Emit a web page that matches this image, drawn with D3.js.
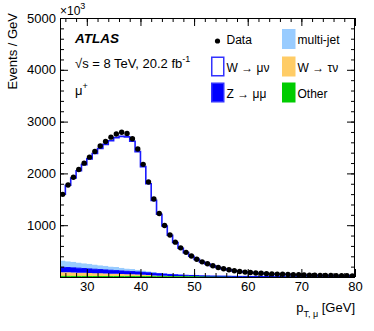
<!DOCTYPE html>
<html><head><meta charset="utf-8">
<script src="https://cdn.jsdelivr.net/npm/d3@7"></script>
<style>
body{margin:0;background:#fff}
svg{display:block}
text{font-family:"Liberation Sans",Arial,Helvetica,sans-serif;fill:#000}
</style>
</head><body>
<svg id="c" width="374" height="331"></svg>
<script>
// ---- data (bins of 1 GeV from 25 to 80 GeV) ----
const binLow = d3.range(25, 80, 1);
const binWidth = 1;
const dataVals = [1596,1777,1926,2074,2198,2314,2424,2530,2615,2700,2762,2793,2772,2670,2470,2175,1835,1505,1227,994,812,673,563,476,404,343,292,256,217,184,159,140,120,107,95,86,78,71,65,60,56,52,48,45,42,39,36,34,32,30,28,26,25,23,22];
const wmunu = [1283,1465,1618,1770,1903,2026,2143,2251,2344,2426,2499,2537,2539,2466,2279,2003,1687,1383,1127,915,746,617,514,435,369,312,267,231,195,164,140,123,105,93,82,74,66,60,54,50,46,43,41,38,35,33,30,28,26,24,23,21,20,18,17];
const zmumu = [95,92,89,86,82,79,76,72,69,66,62,59,56,53,50,47,44,40,37,34,31,28,25,22,20,18,16,14,13,12,11,10,9,8,8,7,7,6,6,5,5,5,4,4,4,3,3,3,3,3,2,2,2,2,2];
const multijet = [130,123,116,110,104,98,92,86,80,74,68,62,56,50,44,38,32,26,20,14,9,5,3,2,1,1,0,0,0,0,0,0,0,0,0,0,0,0,0,0,0,0,0,0,0,0,0,0,0,0,0,0,0,0,0];
const wtaunu = [80,78,76,73,70,67,64,61,58,55,52,49,46,43,40,35,30,25,20,16,13,10,8,6,5,4,3,3,2,2,2,1,1,1,1,1,1,1,1,1,1,1,0,0,0,0,0,0,0,0,0,0,0,0,0];
const other = [12,12,11,11,11,10,10,10,9,9,9,8,8,8,7,7,7,6,6,6,6,5,5,5,5,5,4,4,4,4,4,4,3,3,3,3,3,3,3,3,3,2,2,2,2,2,2,2,2,2,2,2,2,2,2];
const xTicks = [30,40,50,60,70,80];
const yTicks = [0,1000,2000,3000,4000,5000];
const xMinor = d3.range(26, 81, 2);
const yMinor = d3.range(0, 5001, 200);

// ---- layout ----
const svg = d3.select('#c');
const P = {l:60, r:355, t:18, b:277};
const x = d3.scaleLinear().domain([25,80]).range([P.l, P.r]);
const y = d3.scaleLinear().domain([0,5000]).range([P.b, P.t]);

svg.append('defs').append('clipPath').attr('id','clip')
  .append('rect').attr('x',P.l).attr('y',P.t).attr('width',P.r-P.l).attr('height',P.b-P.t);

const rows = binLow.map((lo,i)=>({lo, other:other[i], wtaunu:wtaunu[i], zmumu:zmumu[i], multijet:multijet[i], wmunu:wmunu[i]}));
const keys = ['other','wtaunu','zmumu','multijet','wmunu'];
const series = d3.stack().keys(keys)(rows);
const fills = {other:'#00cc00', wtaunu:'#ffcc66', zmumu:'#0000ff', multijet:'#99ccff', wmunu:'#ffffff'};
const strokes = {other:'#00cc00', zmumu:'#0000ff', wmunu:'#1a1aff'};

function stepPts(s){
  const pts=[];
  s.forEach((d,i)=>{ const lo=rows[i].lo; pts.push({x:lo,y0:d[0],y1:d[1]}); pts.push({x:lo+binWidth,y0:d[0],y1:d[1]}); });
  return pts;
}
const area = d3.area().x(d=>x(d.x)).y0(d=>y(d.y0)).y1(d=>y(d.y1));
const line = d3.line().x(d=>x(d.x)).y(d=>y(d.y1));

const g = svg.append('g').attr('clip-path','url(#clip)');
series.forEach(s=>{
  const pts = stepPts(s);
  g.append('path').attr('d', area(pts)).attr('fill', fills[s.key]).attr('stroke','none');
});
series.forEach(s=>{
  if(!strokes[s.key]) return;
  const pts = stepPts(s);
  g.append('path').attr('d', line(pts)).attr('fill','none')
    .attr('stroke', strokes[s.key]).attr('stroke-width', s.key==='wmunu'?1.6:1);
});

// data points
g.selectAll('circle.d').data(dataVals).join('circle')
  .attr('cx',(d,i)=>x(binLow[i]+binWidth/2)).attr('cy',d=>y(d)).attr('r',2.7).attr('fill','#000');

// ---- axes ----
function styleAxis(sel){ sel.select('.domain').remove(); sel.selectAll('line').attr('stroke','#000'); sel.selectAll('text').style('font-size','13px').attr('font-family','"Liberation Sans",Arial,sans-serif'); }
svg.append('g').attr('transform',`translate(${P.l},0)`)
  .call(d3.axisLeft(y).tickValues(yTicks).tickSize(-8).tickSizeOuter(0).tickPadding(4).tickFormat(d=>d===0?'':d)).call(styleAxis);
svg.append('g').attr('transform',`translate(${P.l},0)`)
  .call(d3.axisLeft(y).tickValues(yMinor).tickSize(-4).tickSizeOuter(0).tickFormat('')).call(styleAxis);
svg.append('g').attr('transform',`translate(${P.r},0)`)
  .call(d3.axisRight(y).tickValues(yTicks).tickSize(-8).tickSizeOuter(0).tickFormat('')).call(styleAxis);
svg.append('g').attr('transform',`translate(${P.r},0)`)
  .call(d3.axisRight(y).tickValues(yMinor).tickSize(-4).tickSizeOuter(0).tickFormat('')).call(styleAxis);
svg.append('g').attr('transform',`translate(0,${P.b})`)
  .call(d3.axisBottom(x).tickValues(xTicks).tickSize(-8).tickSizeOuter(0).tickPadding(5).tickFormat(d3.format('d'))).call(styleAxis);
svg.append('g').attr('transform',`translate(0,${P.b})`)
  .call(d3.axisBottom(x).tickValues(xMinor).tickSize(-4).tickSizeOuter(0).tickFormat('')).call(styleAxis);
svg.append('g').attr('transform',`translate(0,${P.t})`)
  .call(d3.axisTop(x).tickValues(xTicks).tickSize(-8).tickSizeOuter(0).tickFormat('')).call(styleAxis);
svg.append('g').attr('transform',`translate(0,${P.t})`)
  .call(d3.axisTop(x).tickValues(xMinor).tickSize(-4).tickSizeOuter(0).tickFormat('')).call(styleAxis);

svg.append('rect').attr('x',P.l+0.5).attr('y',P.t+0.5).attr('width',P.r-P.l-1).attr('height',P.b-P.t)
  .attr('fill','none').attr('stroke','#000').attr('stroke-width',1);

// exponent label
const ex = svg.append('text').attr('x',60).attr('y',15).style('font-size','12px');
ex.append('tspan').text('×10');
ex.append('tspan').attr('dy',-6).style('font-size','9px').text('3');

// axis titles
svg.append('text').attr('transform','translate(17,13) rotate(-90)').attr('text-anchor','end')
  .style('font-size','13px').text('Events / GeV');
const xt = svg.append('text').attr('x',355).attr('y',312).attr('text-anchor','end').style('font-size','13px');
xt.append('tspan').text('p');
xt.append('tspan').attr('dy',5).style('font-size','9px').text('T, μ');
xt.append('tspan').attr('dy',-5).text(' [GeV]');

// ATLAS labels
svg.append('text').attr('x',75).attr('y',43).style('font-size','13.5px').style('font-weight','bold').style('font-style','italic').text('ATLAS');
const en = svg.append('text').attr('x',75).attr('y',68).style('font-size','13px');
en.append('tspan').text('√s = 8 TeV, 20.2 fb');
en.append('tspan').attr('dy',-6).style('font-size','9px').text('-1');
const mu = svg.append('text').attr('x',75).attr('y',95).style('font-size','13px');
mu.append('tspan').text('μ');
mu.append('tspan').attr('dy',-6).style('font-size','9px').text('+');

// legend
const legend = [
  {label:'Data', type:'dot', x:211, y:39},
  {label:'multi-jet', type:'box', fill:'#99ccff', stroke:'#99ccff', x:282, y:39},
  {label:'W → μν', type:'box', fill:'#ffffff', stroke:'#3333ff', x:211, y:66.5},
  {label:'W → τν', type:'box', fill:'#ffcc66', stroke:'#ffcc66', x:282, y:66.5},
  {label:'Z → μμ', type:'box', fill:'#0000ff', stroke:'#3333ff', x:211, y:92.5},
  {label:'Other', type:'box', fill:'#00cc00', stroke:'#00cc00', x:282, y:92.5}
];
legend.forEach(e=>{
  if(e.type==='dot'){
    svg.append('circle').attr('cx',e.x+6.5).attr('cy',e.y+2).attr('r',2.6).attr('fill','#000');
  } else {
    svg.append('rect').attr('x',e.x+0.75).attr('y',e.y-9.25).attr('width',12).attr('height',18.5)
      .attr('fill',e.fill).attr('stroke',e.stroke).attr('stroke-width',1.5);
  }
  svg.append('text').attr('x',e.x+15.5).attr('y',e.y+5).style('font-size','12px').text(e.label);
});
</script>
</body></html>
